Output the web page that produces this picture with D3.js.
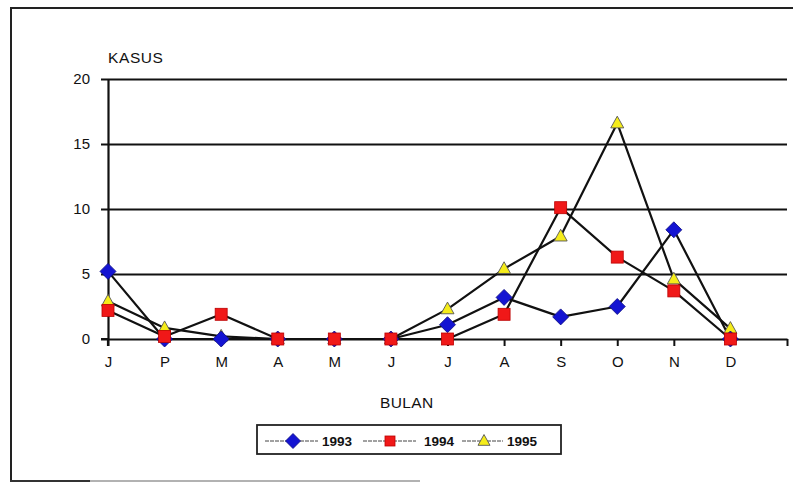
<!DOCTYPE html>
<html>
<head>
<meta charset="utf-8">
<script src="https://cdn.jsdelivr.net/npm/d3@7"></script>
<style>
  html, body { margin: 0; padding: 0; background: #fff; }
  svg { display: block; font-family: "Liberation Sans", Arial, sans-serif; }
</style>
</head>
<body>
<svg id="chart" width="793" height="483"></svg>
<script>
// ---- data ----
const months = ["J", "P", "M", "A", "M", "J", "J", "A", "S", "O", "N", "D"];
const yTicks = [0, 5, 10, 15, 20];
const seriesNames = ["1993", "1994", "1995"];
const values1993 = [5.2, 0, 0, 0, 0, 0, 1.1, 3.2, 1.7, 2.5, 8.4, 0];
const values1994 = [2.2, 0.2, 1.9, 0, 0, 0, 0, 1.9, 10.1, 6.3, 3.7, 0];
const values1995 = [2.9, 0.85, 0.2, 0, 0, 0, 2.3, 5.4, 7.9, 16.6, 4.6, 0.8];
const yTitle = "KASUS";
const xTitle = "BULAN";

const svg = d3.select("#chart");

// outer frame (scanned page border)
svg.append("line").attr("x1", 11).attr("x2", 11).attr("y1", 7).attr("y2", 482)
  .attr("stroke", "#222").attr("stroke-width", 2);
svg.append("line").attr("x1", 10).attr("x2", 793).attr("y1", 8).attr("y2", 8)
  .attr("stroke", "#222").attr("stroke-width", 2);
svg.append("line").attr("x1", 10).attr("x2", 90).attr("y1", 481).attr("y2", 481)
  .attr("stroke", "#333").attr("stroke-width", 2);
svg.append("line").attr("x1", 90).attr("x2", 420).attr("y1", 481).attr("y2", 481)
  .attr("stroke", "#999").attr("stroke-width", 1.5);

// scales
const x = d3.scaleLinear().domain([0, 12]).range([108, 787]);
const y = d3.scaleLinear().domain([0, 20]).range([339, 79]);

// gridlines
svg.append("g")
  .attr("transform", `translate(${x(0)},0)`)
  .call(d3.axisLeft(y).tickValues(yTicks.filter(d => d > 0)).tickSize(-(x(12) - x(0))).tickFormat(""))
  .call(g => g.select(".domain").remove())
  .call(g => g.selectAll("line").attr("stroke", "#111").attr("stroke-width", 2));

// y axis
const yAxis = svg.append("g")
  .attr("transform", `translate(${x(0)},0)`)
  .call(d3.axisLeft(y).tickValues(yTicks).tickSize(7).tickPadding(11).tickSizeOuter(0));
yAxis.select(".domain").attr("stroke", "#111").attr("stroke-width", 2.2);
yAxis.selectAll("line").attr("stroke", "#111").attr("stroke-width", 2);
yAxis.selectAll("text").attr("font-size", 15).attr("fill", "#111")
  .attr("font-family", "Liberation Sans, Arial, sans-serif");
// extend the y-axis line down to tick length
svg.append("line").attr("x1", x(0)).attr("x2", x(0)).attr("y1", y(0)).attr("y2", y(0) + 7)
  .attr("stroke", "#111").attr("stroke-width", 2.2);

// x axis
const xAxis = svg.append("g")
  .attr("transform", `translate(0,${y(0)})`)
  .call(d3.axisBottom(x).tickValues(d3.range(0, 13)).tickSize(7).tickPadding(10).tickSizeOuter(0)
    .tickFormat(i => months[i] !== undefined ? months[i] : ""));
xAxis.select(".domain").attr("stroke", "#111").attr("stroke-width", 2);
xAxis.selectAll("line").attr("stroke", "#111").attr("stroke-width", 2);
xAxis.selectAll("text").attr("font-size", 15).attr("fill", "#111")
  .attr("font-family", "Liberation Sans, Arial, sans-serif");
// extend domain left to the outer y tick
svg.append("line").attr("x1", x(0) - 7).attr("x2", x(0)).attr("y1", y(0)).attr("y2", y(0))
  .attr("stroke", "#111").attr("stroke-width", 2);

// axis titles
svg.append("text").attr("x", 108).attr("y", 63).attr("font-size", 15.5)
  .attr("letter-spacing", 0.6).attr("fill", "#111").text(yTitle);
svg.append("text").attr("x", 380).attr("y", 408).attr("font-size", 15.5)
  .attr("letter-spacing", 0.4).attr("fill", "#111").text(xTitle);

// lines
const line = d3.line().x((d, i) => x(i)).y(d => y(d));
const allSeries = [values1993, values1994, values1995];
allSeries.forEach(vals => {
  svg.append("path").datum(vals).attr("d", line)
    .attr("fill", "none").attr("stroke", "#111").attr("stroke-width", 2.2)
    .attr("stroke-linejoin", "round");
});

// marker shapes
function diamond(g, cx, cy, r) {
  g.append("path").attr("d", `M${cx},${cy - r}L${cx + r},${cy}L${cx},${cy + r}L${cx - r},${cy}Z`)
    .attr("fill", "#1414d2").attr("stroke", "#0a0a80").attr("stroke-width", 0.8);
}
function square(g, cx, cy, s) {
  g.append("rect").attr("x", cx - s / 2).attr("y", cy - s / 2).attr("width", s).attr("height", s)
    .attr("fill", "#f01818").attr("stroke", "#b00").attr("stroke-width", 0.8);
}
function triangle(g, cx, cy, s) {
  const h = s * 0.9;
  g.append("path").attr("d", `M${cx},${cy - h * 0.6}L${cx + s / 2},${cy + h * 0.4}L${cx - s / 2},${cy + h * 0.4}Z`)
    .attr("fill", "#f5ec1a").attr("stroke", "#555").attr("stroke-width", 0.9);
}

const markers = svg.append("g");
values1995.forEach((v, i) => triangle(markers, x(i), y(v), 13));
values1993.forEach((v, i) => diamond(markers, x(i), y(v), 8));
values1994.forEach((v, i) => square(markers, x(i), y(v), 12));

// legend
const lg = svg.append("g");
lg.append("rect").attr("x", 257).attr("y", 425).attr("width", 304).attr("height", 29)
  .attr("fill", "#fff").attr("stroke", "#222").attr("stroke-width", 1.8);
const ly = 441;
const legendItems = [
  { name: seriesNames[0], x1: 265, x2: 318, mx: 293, draw: (g, cx, cy) => diamond(g, cx, cy, 7.5), tx: 322 },
  { name: seriesNames[1], x1: 363, x2: 416, mx: 390, draw: (g, cx, cy) => square(g, cx, cy, 10), tx: 424 },
  { name: seriesNames[2], x1: 462, x2: 503, mx: 484, draw: (g, cx, cy) => triangle(g, cx, cy, 12), tx: 507 }
];
legendItems.forEach(it => {
  lg.append("line").attr("x1", it.x1).attr("x2", it.x2).attr("y1", ly).attr("y2", ly)
    .attr("stroke", "#444").attr("stroke-width", 1).attr("stroke-dasharray", "4,1");
  it.draw(lg, it.mx, ly);
  lg.append("text").attr("x", it.tx).attr("y", ly + 5).attr("font-size", 13.5)
    .attr("font-weight", "bold").attr("fill", "#111").text(it.name);
});
</script>
</body>
</html>
